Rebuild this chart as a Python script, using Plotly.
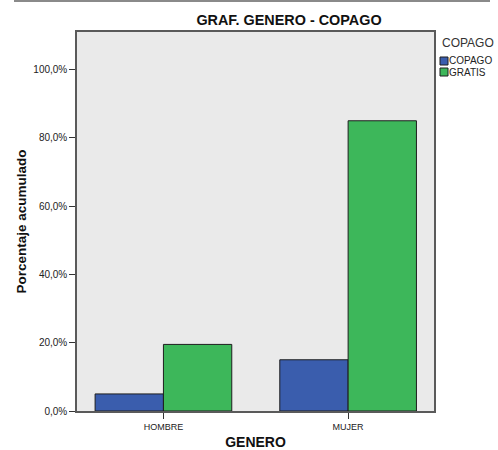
import plotly.graph_objects as go

categories = ["HOMBRE", "MUJER"]
series_names = ["COPAGO", "GRATIS"]
copago_vals = [5.0, 15.0]
gratis_vals = [19.5, 85.0]
y_tickvals = [0, 20, 40, 60, 80, 100]
y_ticktext = ["0,0%", "20,0%", "40,0%", "60,0%", "80,0%", "100,0%"]
colors = ["#3A5DAD", "#3DB75A"]

FONT = "Liberation Sans, Arial, sans-serif"

fig = go.Figure()
for name, vals, col in zip(series_names, [copago_vals, gratis_vals], colors):
    fig.add_trace(go.Bar(
        x=categories, y=vals, name=name,
        marker=dict(color=col, line=dict(color="#1E1E1E", width=1)),
        showlegend=False,
    ))

fig.update_layout(
    width=498, height=450,
    margin=dict(l=77, r=64, t=32, b=39),
    paper_bgcolor="white",
    plot_bgcolor="#EAEAEA",
    barmode="group",
    bargap=0.26,
    bargroupgap=0,
    font=dict(family=FONT, color="#333333", size=9),
    title=dict(text="<b>GRAF. GENERO - COPAGO</b>", x=289/498, xanchor="center",
               y=1 - 20/450, yanchor="middle",
               font=dict(family=FONT, size=14.4, color="#111111")),
)

fig.update_xaxes(
    type="category", range=[-0.468, 1.465], automargin=False,
    showline=True, mirror=True, linecolor="#5A5A5A", linewidth=1.5,
    ticks="outside", ticklen=6, tickcolor="#333333", tickwidth=1,
    tickfont=dict(size=9, color="#222222", family=FONT),
    showgrid=False,
    title=dict(text="<b>GENERO</b>", font=dict(size=14, color="#111111", family=FONT), standoff=9),
)
fig.update_yaxes(
    range=[0, 111], tickvals=y_tickvals, ticktext=y_ticktext, automargin=False,
    showline=True, mirror=True, linecolor="#5A5A5A", linewidth=1.5,
    ticks="outside", ticklen=6, tickcolor="#333333", tickwidth=1,
    tickfont=dict(size=10, color="#222222", family=FONT),
    showgrid=False, zeroline=False,
    title=dict(text="<b>Porcentaje acumulado</b>", font=dict(size=13.5, color="#111111", family=FONT), standoff=4),
)

# top separator line
fig.add_shape(type="line", xref="paper", yref="paper",
              x0=(14-77)/357, x1=(490-77)/357, y0=1 + 31/379, y1=1 + 31/379,
              line=dict(color="#8A8A8A", width=2))

# manual legend
fig.add_annotation(xref="paper", yref="paper", x=(440-77)/357, y=(411-43)/379,
                   text="COPAGO", showarrow=False, xanchor="left", yanchor="middle",
                   font=dict(size=12, color="#333333", family=FONT))
for i, (name, col) in enumerate(zip(series_names, colors)):
    yc = 61 + i * 11
    fig.add_shape(type="rect", xref="paper", yref="paper",
                  x0=(440-77)/357, x1=(448-77)/357,
                  y0=(411-(yc+4))/379, y1=(411-(yc-4))/379,
                  fillcolor=col, line=dict(color="#1E1E1E", width=1))
    fig.add_annotation(xref="paper", yref="paper", x=(447-77)/357, y=(411-yc)/379,
                       text=name, showarrow=False, xanchor="left", yanchor="middle",
                       font=dict(size=10, color="#222222", family=FONT))

fig.write_html("out.html", config={"displayModeBar": False},
               post_script="document.body.style.margin='0px';document.body.style.overflow='hidden';")
